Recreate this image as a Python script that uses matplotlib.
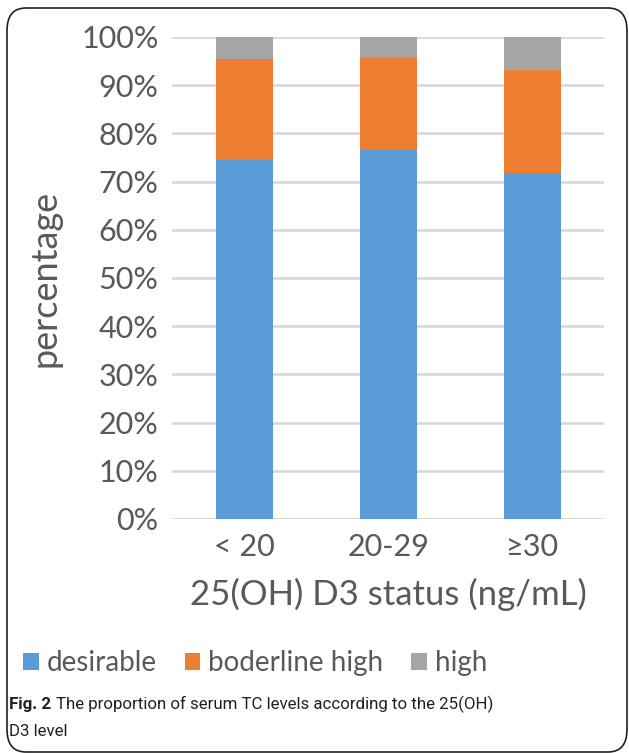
import matplotlib.pyplot as plt
import numpy as np
from matplotlib.patches import FancyBboxPatch

# serum TC level shares (%) per 25(OH) D3 group
groups = ["\u02c2 20", "20-29", "\u226530"]
desirable = [74.4, 76.5, 71.8]
borderline_high = [21.0, 19.1, 21.4]
high = [4.6, 4.4, 6.8]
series_names = ["desirable", "boderline high", "high"]
colors = ["#5B9BD5", "#ED7D31", "#A5A5A5"]
yticks = list(range(0, 101, 10))

text_color = "#595959"
chart_font = ["Lato", "DejaVu Sans"]
caption_font = ["Roboto", "DejaVu Sans"]

fig = plt.figure(figsize=(6.29, 7.53), dpi=100)
ax = fig.add_axes([0.2742, 0.3108, 0.6868, 0.6401])

x = np.arange(len(groups))
bottom = np.zeros(len(groups))
handles = []
for name, values, color in zip(series_names, [desirable, borderline_high, high], colors):
    bars = ax.bar(x, values, width=0.4, bottom=bottom, color=color, label=name, zorder=3)
    handles.append(bars)
    bottom += np.array(values)

ax.set_xlim(-0.5, 2.5)
ax.set_ylim(0, 100)
ax.set_yticks(yticks)
ax.set_yticklabels([f"{v}%" for v in yticks], family=chart_font, fontsize=22, color=text_color)
ax.set_xticks(x)
ax.set_xticklabels(groups, family=chart_font, fontsize=22, color=text_color)
ax.tick_params(axis="y", length=0, pad=10)
ax.tick_params(axis="x", length=0, pad=10)
ax.grid(axis="y", color="#D9D9D9", linewidth=2, zorder=0)
for spine in ax.spines.values():
    spine.set_visible(False)

ax.set_ylabel("percentage", family=chart_font, fontsize=26, color=text_color, labelpad=14)
ax.set_xlabel("25(OH) D3 status (ng/mL)", family=chart_font, fontsize=25, color=text_color, labelpad=12)

leg = fig.legend(handles=handles, labels=series_names, loc="center", bbox_to_anchor=(0.406, 0.1195),
                 ncol=3, frameon=False, handlelength=0.55, handleheight=0.55, handletextpad=0.3,
                 columnspacing=1.0, prop={"family": chart_font, "size": 20})
for t in leg.get_texts():
    t.set_color(text_color)

# caption below the chart: bold figure number, then the description
cap_y = 1 - 704 / 753
fig_no = fig.text(9 / 629, cap_y, "Fig. 2", family=caption_font, fontweight="bold", fontsize=12.2,
                  color="#231F20", va="center")
fig.canvas.draw()
bb = fig_no.get_window_extent().transformed(fig.transFigure.inverted())
fig.text(bb.x1 + 5 / 629, cap_y, "The proportion of serum TC levels according to the 25(OH)",
         family=caption_font, fontsize=12.2, color="#231F20", va="center")
fig.text(9 / 629, 1 - 731 / 753, "D3 level", family=caption_font, fontsize=12.2, color="#231F20", va="center")

# rounded frame around the whole figure
frame = FancyBboxPatch((7 / 629, 1 / 753), 620 / 629, 744 / 753, boxstyle="round,pad=0,rounding_size=0.03",
                       transform=fig.transFigure, fill=False, edgecolor="#231F20", linewidth=1.2)
fig.patches.append(frame)

fig.savefig("out.png", dpi=100)
